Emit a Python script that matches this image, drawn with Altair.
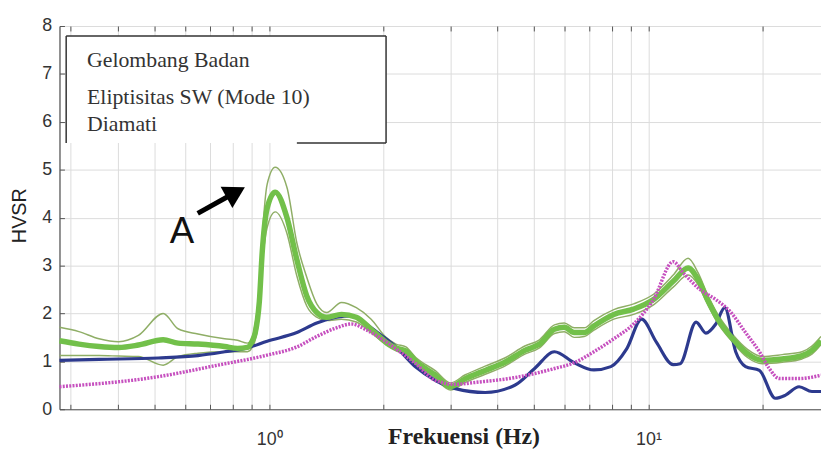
import altair as alt
import pandas as pd

# ---------------- data ----------------
freq_body = [0.28, 0.356, 0.51, 0.649, 0.763, 0.876, 0.988, 1.183, 1.335, 1.505, 1.647, 1.80,
             1.97, 2.159, 2.435, 2.746, 3.097, 3.71, 4.44, 5.01, 5.65, 6.37, 7.18, 7.96, 8.76,
             9.59, 10.49, 11.62, 12.12, 13.35, 14.17, 15.05, 15.89, 16.98, 18.03, 19.61, 21.59,
             22.93, 24.95, 26.97, 28.5]
hvsr_body = [1.02, 1.04, 1.07, 1.12, 1.2, 1.28, 1.42, 1.6, 1.8, 1.92, 1.95, 1.78,
             1.55, 1.3, 0.88, 0.6, 0.43, 0.35, 0.5, 0.85, 1.2, 0.97, 0.82, 0.89, 1.26,
             1.88, 1.4, 0.93, 0.95, 1.82, 1.59, 1.78, 2.12, 1.2, 0.89, 0.81, 0.23,
             0.29, 0.47, 0.37, 0.37]

freq_mode = [0.28, 0.51, 0.732, 0.988, 1.183, 1.335, 1.505, 1.647, 1.80, 1.97, 2.159, 2.435,
             2.746, 3.097, 3.493, 4.44, 5.65, 6.37, 7.18, 8.10, 9.14, 10.31, 11.62, 12.34,
             13.67, 15.05, 16.37, 18.03, 19.61, 20.82, 22.12, 24.95, 28.5]
hvsr_mode = [0.47, 0.68, 0.92, 1.13, 1.3, 1.52, 1.7, 1.78, 1.66, 1.48, 1.26, 0.95,
             0.6, 0.52, 0.56, 0.66, 0.85, 0.97, 1.2, 1.47, 1.78, 2.29, 3.08, 2.85,
             2.5, 2.29, 2.05, 1.6, 1.2, 0.85, 0.64, 0.64, 0.71]

freq_obs = [0.28, 0.315, 0.356, 0.401, 0.452, 0.5255, 0.575, 0.649, 0.763, 0.825, 0.876, 0.903,
            0.919, 0.942, 0.959, 0.988, 1.037, 1.114, 1.183, 1.257, 1.335, 1.417, 1.551, 1.697,
            1.857, 2.033, 2.159, 2.293, 2.435, 2.746, 3.005, 3.29, 3.71, 4.18, 4.72, 5.16,
            5.65, 6.0, 6.37, 6.77, 7.18, 8.10, 9.14, 10.31, 11.62, 12.72, 13.51, 14.3,
            15.23, 16.67, 18.24, 19.97, 22.52, 25.4, 26.97, 28.5]
hvsr_obs = [1.43, 1.36, 1.31, 1.29, 1.34, 1.45, 1.38, 1.36, 1.31, 1.27, 1.29, 1.43,
            1.6, 2.25, 3.3, 4.2, 4.53, 4.0, 3.12, 2.36, 2.02, 1.92, 1.98, 1.92,
            1.67, 1.4, 1.28, 1.22, 1.0, 0.71, 0.47, 0.64, 0.81, 0.98, 1.23, 1.36,
            1.67, 1.71, 1.6, 1.6, 1.74, 1.98, 2.09, 2.29, 2.67, 2.95, 2.71, 2.29,
            1.88, 1.47, 1.16, 1.02, 1.05, 1.12, 1.23, 1.43]
hvsr_obs_hi = [1.71, 1.62, 1.47, 1.41, 1.54, 2.0, 1.68, 1.57, 1.47, 1.44, 1.38, 1.5,
               1.8, 2.5, 3.6, 4.7, 5.05, 4.63, 3.47, 2.75, 2.2, 2.02, 2.23, 2.12,
               1.88, 1.5, 1.36, 1.3, 1.08, 0.8, 0.55, 0.72, 0.9, 1.07, 1.32, 1.45,
               1.76, 1.8, 1.7, 1.7, 1.85, 2.08, 2.2, 2.4, 2.8, 3.15, 2.85, 2.4,
               1.98, 1.56, 1.25, 1.1, 1.14, 1.2, 1.32, 1.52]
hvsr_obs_lo = [1.12, 1.12, 1.12, 1.11, 1.1, 0.92, 1.1, 1.17, 1.2, 1.2, 1.2, 1.3,
               1.45, 2.0, 3.0, 3.8, 4.12, 3.67, 2.78, 2.15, 1.92, 1.85, 1.88, 1.82,
               1.6, 1.34, 1.22, 1.15, 0.93, 0.63, 0.4, 0.56, 0.73, 0.9, 1.15, 1.28,
               1.58, 1.62, 1.5, 1.52, 1.65, 1.88, 1.98, 2.18, 2.55, 2.8, 2.6, 2.2,
               1.8, 1.4, 1.08, 0.95, 0.98, 1.05, 1.15, 1.35]

x_ticks = [0.3, 0.4, 0.5, 0.6, 0.7, 0.8, 0.9, 1, 2, 3, 4, 5, 6, 7, 8, 9, 10, 20]
y_ticks = [0, 1, 2, 3, 4, 5, 6, 7, 8]

legend_labels = ["Gelombang Badan", "Eliptisitas SW (Mode 10)", "Diamati"]
legend_label_y = [7.15, 6.38, 5.81]
legend_label_x = 0.331
legend_box_x = [0.2916, 2.033]
legend_box_y = [5.56, 7.79]
legend_bottom_start = 1.183

arrow_tail = (0.648, 4.09)
arrow_head = (0.816, 4.53)
arrow_label = ("A", 0.589, 3.70)

# ---------------- frames ----------------
df_body = pd.DataFrame({"f": freq_body, "v": hvsr_body})
df_mode = pd.DataFrame({"f": freq_mode, "v": hvsr_mode})
df_obs = pd.DataFrame({"f": freq_obs, "v": hvsr_obs})
df_hi = pd.DataFrame({"f": freq_obs, "v": hvsr_obs_hi})
df_lo = pd.DataFrame({"f": freq_obs, "v": hvsr_obs_lo})

xs = alt.Scale(type="log", domain=[0.28, 28.5], nice=False)
ys = alt.Scale(domain=[0, 8], nice=False, zero=False)

X = lambda field="f", axis=None: alt.X(f"{field}:Q", scale=xs, axis=axis)
Y = lambda field="v", axis=None: alt.Y(f"{field}:Q", scale=ys, axis=axis)

label_font = "Liberation Sans"

x_axis_main = alt.Axis(
    values=x_ticks,
    labelExpr="datum.value == 1 ? '10⁰' : (datum.value == 10 ? '10¹' : '')",
    labelOverlap=False, labelFlush=False,
    grid=True, gridColor="#dcdcdc", gridWidth=1,
    domainColor="#555555", domainWidth=1.2,
    ticks=False, tickSize=0,
    labelFont=label_font, labelFontSize=18, labelColor="#333333",
    labelBaseline="alphabetic", labelPadding=36,
    title="Frekuensi (Hz)", titleFont="Liberation Serif", titleFontWeight="bold",
    titleFontSize=24, titleColor="#222222",
    titleX=408, titleY=35, titleAlign="center", titleBaseline="alphabetic",
)
y_axis_main = alt.Axis(
    values=y_ticks,
    grid=True, gridColor="#dcdcdc", gridWidth=1,
    domainColor="#555555", domainWidth=1.2,
    ticks=False, tickSize=0,
    labelFont=label_font, labelFontSize=18, labelColor="#333333", labelPadding=8,
    title="HVSR", titleFont=label_font, titleFontWeight="normal", titleFontSize=20,
    titleColor="#222222", titleAngle=270, titleX=-40, titleY=191,
    titleAlign="center", titleBaseline="middle",
)

tick_style = dict(labels=False, domain=False, grid=False, title=None,
                  tickColor="#555555", tickWidth=1, tickSize=5, offset=-5)

# base layer carries main axes (invisible line)
base = alt.Chart(df_body).mark_line(opacity=0).encode(
    x=X(axis=x_axis_main), y=Y(axis=y_axis_main))

ticks_bl = alt.Chart(df_body).mark_line(opacity=0).encode(
    x=X(axis=alt.Axis(orient="bottom", values=x_ticks, **tick_style)),
    y=Y(axis=alt.Axis(orient="left", values=y_ticks, **tick_style)))
ticks_top = alt.Chart(df_body).mark_line(opacity=0).encode(
    x=X(axis=alt.Axis(orient="top", values=x_ticks, **tick_style)),
    y=Y())

hi = alt.Chart(df_hi).mark_line(color="#8fae66", strokeWidth=1.5, interpolate="monotone").encode(x=X(), y=Y())
lo = alt.Chart(df_lo).mark_line(color="#8fae66", strokeWidth=1.5, interpolate="monotone").encode(x=X(), y=Y())
body = alt.Chart(df_body).mark_line(color="#2d3a8e", strokeWidth=3.2, interpolate="monotone").encode(x=X(), y=Y())
obs = alt.Chart(df_obs).mark_line(color="#72c04a", strokeWidth=5.5, interpolate="monotone").encode(x=X(), y=Y())
mode = alt.Chart(df_mode).mark_line(color="#c650bf", strokeWidth=3.5, strokeDash=[2, 1.3],
                                    interpolate="monotone").encode(x=X(), y=Y())

# legend box
df_box = pd.DataFrame({"x": [legend_box_x[0]], "x2": [legend_box_x[1]],
                       "y": [legend_box_y[0]], "y2": [legend_box_y[1]]})
box = alt.Chart(df_box).mark_rect(fill="white", stroke=None).encode(
    x=X("x"), x2="x2:Q", y=Y("y"), y2="y2:Q")
df_edges = pd.DataFrame({
    "x": [legend_box_x[0], legend_box_x[0], legend_box_x[1], legend_bottom_start],
    "x2": [legend_box_x[1], legend_box_x[0], legend_box_x[1], legend_box_x[1]],
    "y": [legend_box_y[1], legend_box_y[0], legend_box_y[0], legend_box_y[0]],
    "y2": [legend_box_y[1], legend_box_y[1], legend_box_y[1], legend_box_y[0]],
})
edges = alt.Chart(df_edges).mark_rule(color="#333333", strokeWidth=1.5).encode(
    x=X("x"), x2="x2:Q", y=Y("y"), y2="y2:Q")
df_leg = pd.DataFrame({"label": legend_labels, "x": [legend_label_x] * 3, "y": legend_label_y})
leg_text = alt.Chart(df_leg).mark_text(align="left", baseline="alphabetic", font="Liberation Serif",
                                       fontSize=22, color="#333333").encode(
    x=X("x"), y=Y("y"), text="label:N")

# arrow + label
df_arrow = pd.DataFrame({"x": [arrow_tail[0]], "x2": [arrow_head[0]],
                         "y": [arrow_tail[1]], "y2": [arrow_head[1]]})
arrow_line = alt.Chart(df_arrow).mark_rule(color="black", strokeWidth=5).encode(
    x=X("x"), x2="x2:Q", y=Y("y"), y2="y2:Q")
df_head = pd.DataFrame({"x": [arrow_head[0]], "y": [arrow_head[1]]})
arrow_tip = alt.Chart(df_head).mark_point(shape="triangle-up", filled=True, size=600, angle=61,
                                          color="black", opacity=1).encode(x=X("x"), y=Y("y"))
df_A = pd.DataFrame({"t": [arrow_label[0]], "x": [arrow_label[1]], "y": [arrow_label[2]]})
a_text = alt.Chart(df_A).mark_text(font=label_font, fontSize=37, align="center", baseline="middle",
                                   color="#111111").encode(x=X("x"), y=Y("y"), text="t:N")

chart = alt.layer(
    base, ticks_bl, ticks_top, hi, lo, body, obs, mode, box, edges, leg_text,
    arrow_line, arrow_tip, a_text
).resolve_axis(x="independent", y="independent").properties(
    width=769, height=387,
    autosize=alt.AutoSizeParams(type="none"),
    padding={"left": 52, "top": 16, "right": 0, "bottom": 41},
).configure_view(stroke="#555555", strokeWidth=1.2).configure(background="white")

chart.save("out.html", embed_options={"renderer": "svg", "actions": False})
